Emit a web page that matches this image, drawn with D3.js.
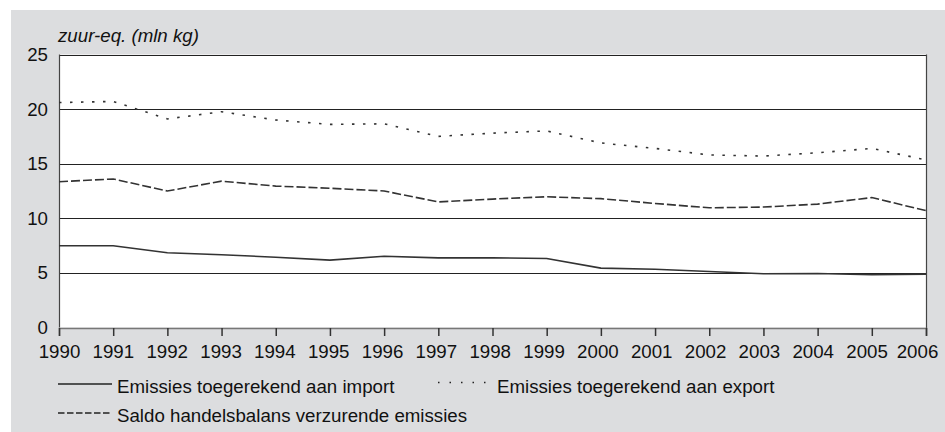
<!DOCTYPE html>
<html><head><meta charset="utf-8">
<script src="https://cdn.jsdelivr.net/npm/d3@7"></script>
<style>
html,body{margin:0;padding:0;background:#fff;}
svg{display:block;font-family:"Liberation Sans",Arial,Helvetica,sans-serif;}
</style></head>
<body>
<svg id="chart" width="945" height="432"></svg>
<script>
const years = [1990,1991,1992,1993,1994,1995,1996,1997,1998,1999,2000,2001,2002,2003,2004,2005,2006];
const importValues = [7.48,7.48,6.84,6.66,6.44,6.17,6.53,6.38,6.38,6.32,5.44,5.34,5.13,4.92,4.95,4.83,4.89];
const exportValues = [20.6,20.7,19.1,19.76,19.0,18.6,18.65,17.5,17.8,18.0,16.9,16.4,15.8,15.7,16.0,16.4,15.35];
const saldoValues  = [13.35,13.6,12.5,13.4,12.95,12.75,12.5,11.5,11.76,11.97,11.8,11.36,10.96,11.03,11.3,11.9,10.7];
const yTicks = [0,5,10,15,20,25];
const yTitle = "zuur-eq. (mln kg)";
const legendLabels = ["Emissies toegerekend aan import","Emissies toegerekend aan export","Saldo handelsbalans verzurende emissies"];

const svg = d3.select("#chart");
const W = 945, H = 432;
const FS = 18.7;
const m = {left:59, right:926, top:54.5, bottom:327.5};

svg.append("rect").attr("x",11).attr("y",10).attr("width",W-11).attr("height",H-10).attr("fill","#dcdddf");

const x = d3.scaleLinear().domain([1990,2006]).range([m.left,m.right]);
const y = d3.scaleLinear().domain([0,25]).range([m.bottom,m.top]);

svg.append("rect").attr("x",m.left).attr("y",m.top).attr("width",m.right-m.left).attr("height",m.bottom-m.top).attr("fill","#fff");

// gridlines
svg.append("g").selectAll("line").data(yTicks.filter(d=>d>0)).join("line")
  .attr("x1",m.left).attr("x2",m.right)
  .attr("y1",d=>Math.round(y(d))+0.5).attr("y2",d=>Math.round(y(d))+0.5)
  .attr("stroke","#222").attr("stroke-width",1.1);

// side borders
svg.append("line").attr("x1",m.left+0.5).attr("x2",m.left+0.5).attr("y1",m.top).attr("y2",m.bottom).attr("stroke","#444").attr("stroke-width",1.2);
svg.append("line").attr("x1",m.right+0.5).attr("x2",m.right+0.5).attr("y1",m.top).attr("y2",m.bottom+8).attr("stroke","#444").attr("stroke-width",1.2);

// x axis
const xAxis = d3.axisBottom(x).tickValues(years).tickFormat(d3.format("d")).tickSize(8).tickPadding(9);
const gx = svg.append("g").attr("transform",`translate(0,${Math.round(y(0))})`).call(xAxis);
gx.select(".domain").attr("stroke","#777").attr("stroke-width",1.5);
gx.selectAll(".tick line").attr("stroke","#333").attr("stroke-width",1.5);
gx.selectAll(".tick text").attr("font-size",FS).attr("fill","#111").attr("font-family","Liberation Sans, Arial, sans-serif")
  .attr("dx",(d,i)=> i===years.length-1 ? -9 : -(d-1990)*0.35);

// y axis labels
const yAxis = d3.axisLeft(y).tickValues(yTicks).tickSize(0).tickPadding(11);
const gy = svg.append("g").attr("transform",`translate(${m.left},0)`).call(yAxis);
gy.select(".domain").remove();
gy.selectAll(".tick text").attr("font-size",FS).attr("fill","#111").attr("font-family","Liberation Sans, Arial, sans-serif");

svg.append("text").attr("x",58).attr("y",42).attr("font-size",FS).attr("font-style","italic").attr("fill","#111").text(yTitle);

const line = d3.line().x((d,i)=>x(years[i])).y(d=>y(d));
const series = [
  {vals:importValues, dash:null},
  {vals:exportValues, dash:"2.5,8.5"},
  {vals:saldoValues, dash:"9,3"}
];
series.forEach(s=>{
  svg.append("path").datum(s.vals).attr("d",line).attr("fill","none")
    .attr("stroke","#333").attr("stroke-width",1.6)
    .attr("stroke-dasharray",s.dash);
});

// legend
const legend = [
  {x1:58,x2:112,tx:117,y:384,dash:null,label:legendLabels[0]},
  {x1:438,x2:486,tx:497,y:382.5,dash:"1.5,10",label:legendLabels[1]},
  {x1:58,x2:112,tx:117,y:413,dash:"6.5,2.5",label:legendLabels[2]}
];
legend.forEach((l,i)=>{
  svg.append("line").attr("x1",l.x1).attr("x2",l.x2).attr("y1",l.y).attr("y2",l.y)
    .attr("stroke","#222").attr("stroke-width",1.3).attr("stroke-dasharray",l.dash);
  svg.append("text").attr("x",l.tx).attr("y",i===1?386:l.y+2).attr("dy","0.35em").attr("font-size",FS).attr("fill","#111").text(l.label);
});
</script>
</body></html>
